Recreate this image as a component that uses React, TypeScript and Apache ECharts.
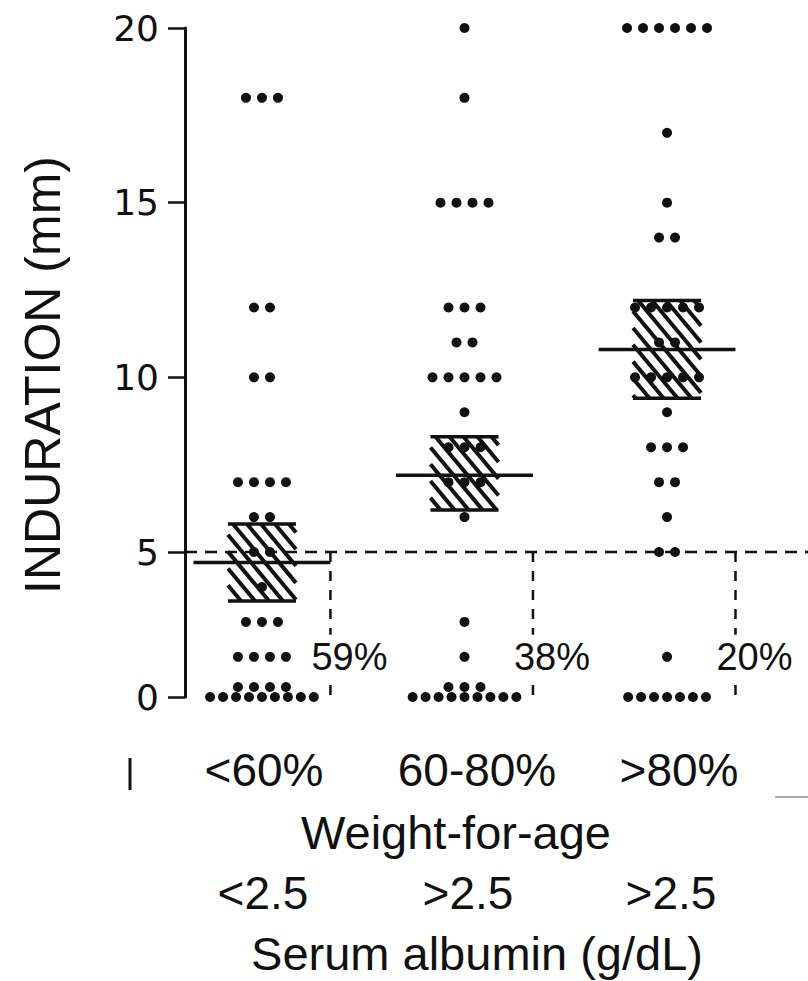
import React, { useEffect, useRef } from "react";
import * as echarts from "echarts";

// ---- data ----
const WEIGHT_CATS = ["<60%", "60-80%", ">80%"];
const ALBUMIN_CATS = ["<2.5", ">2.5", ">2.5"];
const Y_TICKS = [0, 5, 10, 15, 20];
const GROUP_LT60 = [18, 18, 18, 12, 12, 10, 10, 7, 7, 7, 7, 6, 6, 5, 5, 4, 3, 3, 3, 2, 2, 2, 2, 0.5, 0.5, 0.5, 0.5, 0, 0, 0, 0, 0, 0, 0, 0, 0];
const GROUP_60_80 = [20, 18, 15, 15, 15, 15, 12, 12, 12, 11, 11, 10, 10, 10, 10, 10, 9, 8, 8, 8, 7, 7, 7, 6, 3, 2, 0.5, 0.5, 0.5, 0, 0, 0, 0, 0, 0, 0, 0, 0];
const GROUP_GT80 = [20, 20, 20, 20, 20, 20, 17, 15, 14, 14, 12, 12, 12, 12, 12, 11, 11, 10, 10, 10, 10, 10, 9, 8, 8, 8, 7, 7, 6, 5, 5, 2, 0, 0, 0, 0, 0, 0, 0];
const MEDIANS = [4.7, 7.2, 10.8];
const BOX_LOW = [3.6, 6.2, 9.4];
const BOX_HIGH = [5.8, 8.3, 12.2];
const PCT_BELOW = ["59%", "38%", "20%"];
const CUTOFF = 5;

const GROUPS = [GROUP_LT60, GROUP_60_80, GROUP_GT80];

// the figure compresses the 0-2 mm band at the bottom of the axis
const BREAK_TOP = 2;
const ZERO_POS = 0.85;
const pos = (v: number) => (v < BREAK_TOP ? ZERO_POS + (v * (BREAK_TOP - ZERO_POS)) / BREAK_TOP : v);

const X_MIN = 0.62;
const X_MAX = 3.696;
const DOT_STEP = 0.079;
const ZERO_STEP = 0.064;
const BOX_HALF = 0.168;
const MED_HALF = 0.338;
const HATCH_SLOPE = 1.2;
const HATCH_GAP = 14;
const FONT = '"Liberation Sans", Arial, sans-serif';
const INK = "#111";

function buildDots() {
  const pts: number[][] = [];
  GROUPS.forEach((vals, gi) => {
    const gx = gi + 1;
    const counts = new Map<number, number>();
    vals.forEach((v) => counts.set(v, (counts.get(v) || 0) + 1));
    counts.forEach((n, v) => {
      const step = v === 0 ? ZERO_STEP : DOT_STEP;
      for (let k = 0; k < n; k++) {
        pts.push([gx + (k - (n - 1) / 2) * step, pos(v)]);
      }
    });
  });
  return pts;
}

export default function App() {
  const ref = useRef<HTMLDivElement>(null);
  useEffect(() => {
    document.body.style.margin = "0";
    if (!ref.current) return;
    const chart = echarts.init(ref.current, null, { renderer: "svg" });
    const tickVals = Y_TICKS.map(pos);
    const boxData = MEDIANS.map((m, i) => [i + 1, BOX_LOW[i], BOX_HIGH[i], m]);

    const textEl = (text: string, x: number, y: number, size: number, extra: any = {}) => ({
      type: "text",
      x,
      y,
      ...extra,
      style: {
        text,
        fill: INK,
        font: `${size}px ${FONT}`,
        textAlign: "center",
        textVerticalAlign: "middle",
        align: "center",
        verticalAlign: "middle",
      },
    });

    chart.setOption({
      animation: false,
      backgroundColor: "#fff",
      grid: { left: 185, right: 0, top: 28, bottom: 284, outerBoundsMode: "none" },
      xAxis: { type: "value", min: X_MIN, max: X_MAX, show: false },
      yAxis: {
        type: "value",
        min: ZERO_POS,
        max: 20,
        splitLine: { show: false },
        axisLine: { show: true, lineStyle: { color: INK, width: 3 } },
        axisTick: { show: true, customValues: tickVals, length: 17, lineStyle: { color: INK, width: 2.5 } },
        axisLabel: {
          customValues: tickVals,
          margin: 26,
          color: INK,
          fontSize: 36,
          fontFamily: '"DejaVu Sans", sans-serif',
          formatter: (v: number) => {
            const i = tickVals.findIndex((t) => Math.abs(t - v) < 1e-6);
            return i >= 0 ? String(Y_TICKS[i]) : "";
          },
        },
      },
      series: [
        {
          type: "line",
          data: [
            [X_MIN, CUTOFF],
            [X_MAX, CUTOFF],
          ],
          symbol: "none",
          lineStyle: { color: INK, width: 2.5, type: [12, 8] },
          z: 1,
        },
        {
          type: "custom",
          clip: false,
          z: 2,
          data: boxData,
          renderItem: (params: any, api: any) => {
            const gx = api.value(0);
            const lo = api.value(1);
            const hi = api.value(2);
            const med = api.value(3);
            const tl = api.coord([gx - BOX_HALF, hi]);
            const br = api.coord([gx + BOX_HALF, lo]);
            const x0 = tl[0], y0 = tl[1], x1 = br[0], y1 = br[1];
            const children: any[] = [];
            const s = HATCH_SLOPE;
            const stepC = HATCH_GAP * s;
            for (let c = y0 - s * x1 + stepC / 2; c <= y1 - s * x0; c += stepC) {
              const xa = Math.max(x0, (y0 - c) / s);
              const xb = Math.min(x1, (y1 - c) / s);
              if (xb > xa + 1) {
                children.push({
                  type: "line",
                  shape: { x1: xa, y1: s * xa + c, x2: xb, y2: s * xb + c },
                  style: { stroke: INK, lineWidth: 4 },
                });
              }
            }
            children.push({ type: "line", shape: { x1: x0, y1: y0, x2: x1, y2: y0 }, style: { stroke: INK, lineWidth: 3.5 } });
            children.push({ type: "line", shape: { x1: x0, y1: y1, x2: x1, y2: y1 }, style: { stroke: INK, lineWidth: 3.5 } });
            const m0 = api.coord([gx - MED_HALF, med]);
            const m1 = api.coord([gx + MED_HALF, med]);
            children.push({ type: "line", shape: { x1: m0[0], y1: m0[1], x2: m1[0], y2: m1[1] }, style: { stroke: INK, lineWidth: 3.5 } });
            const d0 = api.coord([gx + MED_HALF, CUTOFF]);
            const d1 = api.coord([gx + MED_HALF, ZERO_POS]);
            children.push({
              type: "line",
              shape: { x1: d0[0], y1: d0[1], x2: d1[0], y2: d1[1] },
              style: { stroke: INK, lineWidth: 2.5, lineDash: [10, 9] },
            });
            const p = api.coord([gx + MED_HALF, BREAK_TOP]);
            children.push({
              type: "text",
              style: {
                text: PCT_BELOW[params.dataIndex],
                x: p[0] - 21,
                y: p[1],
                fill: INK,
                font: `38px ${FONT}`,
                textAlign: "left",
                textVerticalAlign: "middle",
                align: "left",
                verticalAlign: "middle",
                backgroundColor: "#fff",
                padding: [3, 2],
              },
              z2: 5,
            });
            return { type: "group", children };
          },
        },
        {
          type: "scatter",
          clip: false,
          z: 3,
          data: buildDots(),
          symbol: "circle",
          symbolSize: 10,
          itemStyle: { color: INK, opacity: 1 },
        },
      ],
      graphic: [
        textEl("INDURATION (mm)", 43, 375, 50, { rotation: Math.PI / 2 }),
        textEl(WEIGHT_CATS[0], 264, 770, 46),
        textEl(WEIGHT_CATS[1], 477, 770, 46),
        textEl(WEIGHT_CATS[2], 679, 770, 46),
        textEl("Weight-for-age", 456, 832, 47),
        textEl(ALBUMIN_CATS[0], 263, 893, 46),
        textEl(ALBUMIN_CATS[1], 468, 893, 46),
        textEl(ALBUMIN_CATS[2], 671, 893, 46),
        textEl("Serum albumin (g/dL)", 477, 953, 47),
        { type: "line", shape: { x1: 130, y1: 758, x2: 130, y2: 790 }, style: { stroke: INK, lineWidth: 3 } },
        { type: "line", shape: { x1: 775, y1: 797, x2: 808, y2: 797 }, style: { stroke: "#aaa", lineWidth: 2 } },
      ],
    });
    return () => chart.dispose();
  }, []);
  return <div ref={ref} style={{ width: 808, height: 981 }} />;
}
